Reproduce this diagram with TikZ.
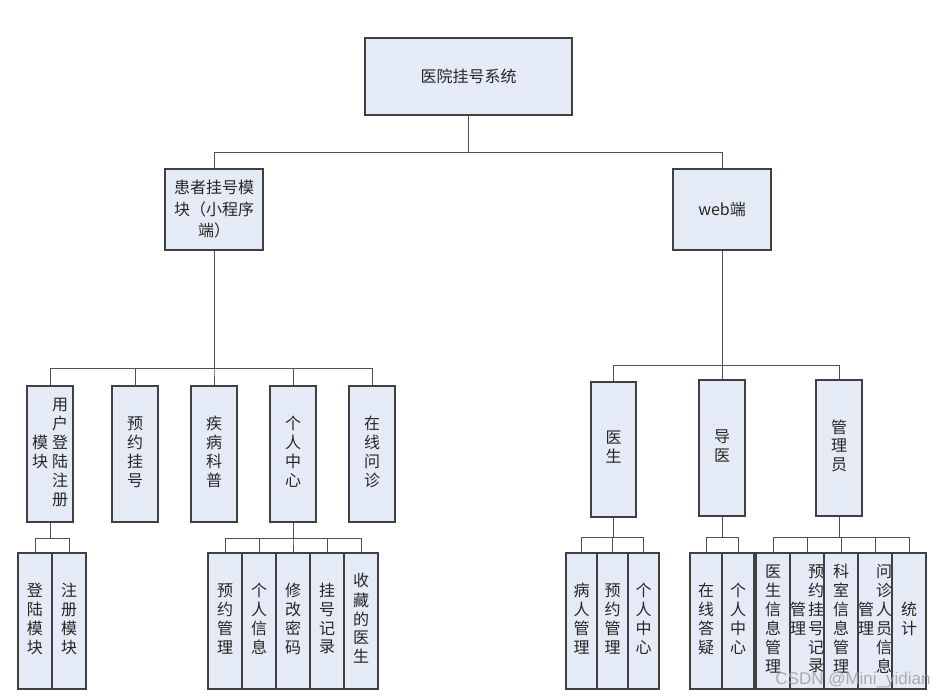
\documentclass[tikz,border=0pt]{standalone}
\usepackage{fontspec}
\newfontfamily\cjk{Noto Sans CJK SC}
\setsansfont{Liberation Sans}
\newcommand\vcol[1]{\begin{tabular}[c]{@{}c@{}}#1\end{tabular}}
\definecolor{boxfill}{HTML}{E4EBF6}
\definecolor{boxline}{HTML}{404040}
\definecolor{connline}{HTML}{505050}
\begin{document}
\begin{tikzpicture}[x=1pt,y=-1pt,
  box/.style={draw=boxline, fill=boxfill, line width=1.1pt, inner sep=0pt,
    font=\cjk\fontsize{16}{18.7}\selectfont, text=black!85},
  midbox/.style={box, minimum width=46pt, minimum height=136pt},
  kid/.style={box, minimum width=34pt, minimum height=136pt},
  conn/.style={draw=connline, line width=1pt}]
\useasboundingbox[fill=white] (0,0) rectangle (941,699);
% top
\node[box, minimum width=207pt, minimum height=77pt] (sys) at (468.5,76.5) {医院挂号系统};
\node[box, minimum width=98pt, minimum height=81pt, align=center,
  font=\cjk\fontsize{16}{21.5}\selectfont] (pat) at (214,209.5) {患者挂号模\\块（小程序\\端）};
\node[box, minimum width=98pt, minimum height=81pt] (web) at (722,209.5) {web端};
% left level 1
\node[midbox] (reg) at (50,454) {\vcol{模\\块}\hspace{4pt}\vcol{用\\户\\登\\陆\\注\\册}};
\node[midbox] (book) at (135,454) {\vcol{预\\约\\挂\\号}};
\node[midbox] (sci) at (214,454) {\vcol{疾\\病\\科\\普}};
\node[midbox] (pc) at (293,454) {\vcol{个\\人\\中\\心}};
\node[midbox] (online) at (372,454) {\vcol{在\\线\\问\\诊}};
% right level 1
\node[box, minimum width=45pt, minimum height=135pt] (doc) at (613.5,449.5) {\vcol{医\\生}};
\node[midbox] (guide) at (722,448) {\vcol{导\\医}};
\node[midbox] (admin) at (839,448) {\vcol{管\\理\\员}};
% left level 2
\node[kid] (login) at (35,621) {\vcol{登\\陆\\模\\块}};
\node[kid] (signup) at (69,621) {\vcol{注\\册\\模\\块}};
\node[kid] (pc1) at (225,621) {\vcol{预\\约\\管\\理}};
\node[kid] (pc2) at (259,621) {\vcol{个\\人\\信\\息}};
\node[kid] (pc3) at (293,621) {\vcol{修\\改\\密\\码}};
\node[kid] (pc4) at (327,621) {\vcol{挂\\号\\记\\录}};
\node[kid] (pc5) at (361,621) {\vcol{收\\藏\\的\\医\\生}};
% right level 2
\node[kid, minimum width=31pt] (dk1) at (581.5,621) {\vcol{病\\人\\管\\理}};
\node[kid, minimum width=31pt] (dk2) at (612.5,621) {\vcol{预\\约\\管\\理}};
\node[kid, minimum width=31pt] (dk3) at (643.5,621) {\vcol{个\\人\\中\\心}};
\node[kid, minimum width=32pt] (gk1) at (706,621) {\vcol{在\\线\\答\\疑}};
\node[kid, minimum width=32pt] (gk2) at (738,621) {\vcol{个\\人\\中\\心}};
\node[kid] (ak1) at (773,621) {\vcol{医\\生\\信\\息\\管\\理}};
\node[kid] (ak2) at (807,621) {\vcol{管\\理}\hspace{2pt}\vcol{预\\约\\挂\\号\\记\\录}};
\node[kid] (ak3) at (841,621) {\vcol{科\\室\\信\\息\\管\\理}};
\node[kid] (ak4) at (875,621) {\vcol{管\\理}\hspace{2pt}\vcol{问\\诊\\人\\员\\信\\息}};
\node[kid] (ak5) at (909,621) {\vcol{统\\计}};
% connectors
\draw[conn] (sys.south) -- ++(0,37) -| (pat.north);
\draw[conn] (sys.south) -- ++(0,37) -| (web.north);
\foreach \c in {reg,book,sci,pc,online} \draw[conn] (pat.south) -- ++(0,118) -| (\c.north);
\foreach \c in {doc,guide,admin} \draw[conn] (web.south) -- ++(0,115) -| (\c.north);
\foreach \c in {login,signup} \draw[conn] (reg.south) -- ++(0,16) -| (\c.north);
\foreach \c in {pc1,pc2,pc3,pc4,pc5} \draw[conn] (pc.south) -- ++(0,16) -| (\c.north);
\foreach \c in {dk1,dk2,dk3} \draw[conn] (doc.south) -- ++(0,20) -| (\c.north);
\foreach \c in {gk1,gk2} \draw[conn] (guide.south) -- ++(0,21) -| (\c.north);
\foreach \c in {ak1,ak2,ak3,ak4,ak5} \draw[conn] (admin.south) -- ++(0,21) -| (\c.north);
% watermark
\node[font=\sffamily\fontsize{17}{17}\selectfont, text=gray!75, opacity=0.85] (wm) at (853,680) {CSDN @Mini\_yidian};
\end{tikzpicture}
\end{document}
